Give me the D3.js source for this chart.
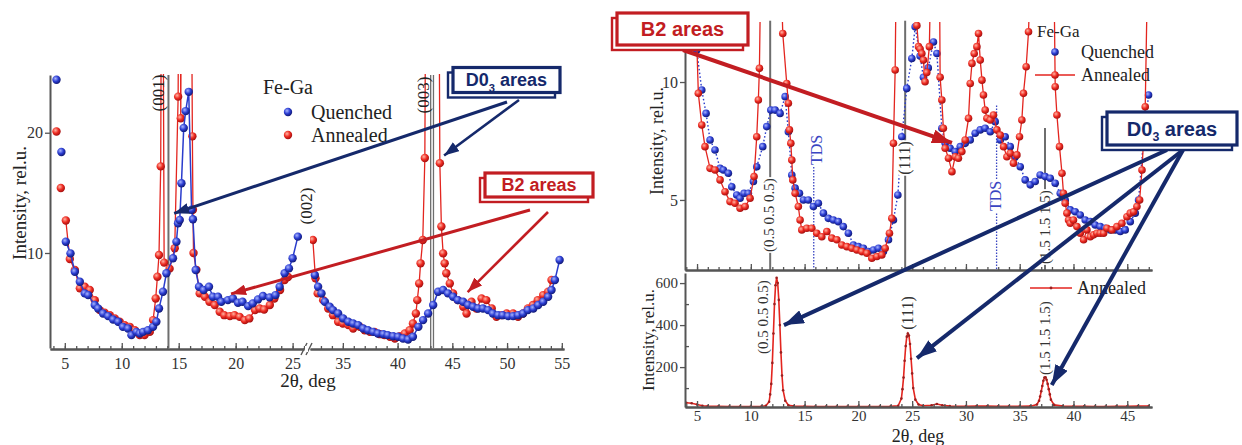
<!DOCTYPE html>
<html>
<head>
<meta charset="utf-8">
<script src="https://cdn.jsdelivr.net/npm/d3@7"></script>
<style>
  html, body { margin: 0; padding: 0; background: #fff; }
  svg { display: block; }
</style>
</head>
<body>
<svg id="fig" width="1242" height="445"></svg>
<script>
// ---------- Left panel: Fe-Ga, 2θ scan with a broken axis ----------
const leftTicksLow  = [5, 10, 15, 20, 25];
const leftTicksHigh = [35, 40, 45, 50, 55];
const leftYTicks    = [10, 20];

// [2θ (deg), intensity (rel.u.)]
const quenchedLow = [
  [4.27,24.4],[4.7,18.4],[5.09,10.94],[5.5,9.97],[5.88,8.44],[6.32,7.61],[6.75,6.64],[7.05,6.5],
  [7.63,5.67],[7.92,5.39],[8.36,4.97],[8.8,4.75],[9.24,4.47],[9.68,4.28],[10.1,3.86],[10.55,3.72],
  [10.85,3.17],[11.29,3.44],[11.58,3.31],[11.87,3.44],[12.3,3.58],[12.75,3.86],[13.04,4.28],[13.27,5.39],
  [13.62,6.78],[13.92,8.31],[14.5,9.56],[14.8,10.94],[14.94,12.47],[15.09,12.75],[15.24,15.8],[15.44,20.4],
  [15.61,21.8],[15.88,23.4],[16.13,13.6],[16.25,12.8],[16.49,8.58],[16.78,7.19],[17.19,6.92],[17.66,7.19],
  [18.0,6.36],[18.45,6.36],[18.74,5.94],[19.32,6.08],[19.76,6.22],[20.2,5.86],[20.6,5.94],[21.1,5.58],
  [21.5,5.81],[21.96,6.14],[22.4,6.42],[22.98,6.31],[23.5,6.5],[23.86,7.19],[24.3,8.31],[24.68,8.72],
  [25.0,9.56],[25.46,11.36]
];
const quenchedHigh = [
  [32.44,8.17],[32.74,7.19],[33.05,6.64],[33.36,5.94],[33.8,5.53],[34.1,5.25],[34.57,4.97],[35.03,4.56],
  [35.5,4.28],[35.94,4.14],[36.4,4.0],[36.86,3.72],[37.3,3.58],[37.77,3.44],[38.2,3.31],[38.7,3.25],
  [39.1,3.17],[39.6,3.08],[40.05,3.03],[40.5,2.89],[40.96,2.81],[41.4,3.03],[41.9,3.86],[42.33,4.42],
  [42.79,4.97],[43.25,5.67],[43.7,6.78],[44.16,6.92],[44.6,6.64],[45.07,6.36],[45.5,6.08],[45.99,5.94],
  [46.44,5.67],[46.9,5.53],[47.36,5.39],[47.8,5.39],[48.27,5.25],[48.7,4.97],[49.18,4.83],[49.6,4.83],
  [50.1,4.75],[50.55,4.75],[51.0,4.83],[51.46,4.97],[51.9,5.25],[52.4,5.39],[52.84,5.67],[53.3,5.94],
  [53.75,6.36],[54.06,6.92],[54.37,7.75],[54.8,9.42]
];
const annealedLow = [
  [4.27,20.1],[4.65,15.4],[5.09,12.7],[5.44,9.5],[5.88,8.58],[6.32,7.06],[6.75,7.19],[7.19,6.92],
  [7.63,6.08],[8.07,5.25],[8.5,5.03],[8.95,4.83],[9.39,4.56],[9.82,4.28],[10.26,4.0],[10.7,3.86],
  [11.14,3.58],[11.58,3.17],[12.0,3.17],[12.46,3.44],[12.75,4.42],[12.98,6.22],[13.13,8.03],[13.27,9.83],
  [13.42,17.2],[13.5,40],[13.6,40],[13.72,9.2],[14.2,8.7],[14.65,10.4],[14.95,23.0],[15.02,40],
  [15.12,40],[15.18,21.2],[15.26,40],[16.08,40],[16.2,19.7],[16.25,13.6],[16.3,10.0],[16.55,8.6],
  [16.84,6.64],[17.3,6.36],[17.7,5.94],[18.16,5.67],[18.6,5.11],[19.0,4.83],[19.5,4.75],[19.9,4.83],
  [20.35,4.69],[20.8,4.42],[21.2,4.56],[21.7,5.25],[22.1,5.39],[22.5,5.3],[23.0,5.67],[23.4,6.22],
  [23.9,6.92],[24.3,7.75],[24.6,8.0]
];
const annealedHigh = [
  [32.26,11.08],[32.5,7.89],[32.7,6.64],[33.2,6.08],[33.66,5.39],[34.1,4.83],[34.57,4.28],[35.0,4.14],
  [35.5,4.0],[35.94,3.72],[36.55,3.86],[37.0,3.58],[37.47,3.44],[37.9,3.44],[38.4,3.25],[38.8,3.17],
  [39.3,3.03],[39.75,2.89],[40.2,3.08],[40.66,3.31],[41.1,3.58],[41.4,4.14],[41.67,4.97],[41.8,6.08],
  [41.97,7.47],[42.1,9.14],[42.3,11.08],[42.49,17.9],[42.6,40],[43.75,40],[43.86,17.47],[44.0,12.2],
  [44.16,9.97],[44.3,9.14],[44.45,8.31],[44.77,7.47],[45.07,6.64],[45.5,6.08],[46.0,5.53],[46.3,4.97],
  [46.75,5.94],[47.2,5.39],[47.67,6.22],[48.1,6.08],[48.6,5.39],[49.03,4.69],[49.5,4.83],[49.96,4.97],
  [50.55,4.97],[51.0,4.69],[51.46,4.97],[51.9,5.39],[52.36,5.67],[52.8,6.08],[53.3,6.5],[53.75,6.78],
  [54.06,7.75]
];
// superstructure reflections marked on the left panel
const leftReflections = [
  { label: "(001)", at: 14.1, line: true },
  { label: "(002)", at: 26.0, line: false },
  { label: "(003)", at: 43.15, line: true }
];

// ---------- Right panel: upper scan (both states) and lower full-scale scan ----------
const rightTicks = [5, 10, 15, 20, 25, 30, 35, 40, 45];
const upperYTicks = [5, 10];
const lowerYTicks = [200, 400, 600];
const lowerYMinor = [100, 300, 500];

const quenchedRight = [
  [4.97,11.36],[5.44,9.66],[5.84,8.67],[6.21,7.54],[6.67,7.12],[7.14,6.34],[7.45,6.27],[7.91,6.13],
  [8.23,5.56],[8.69,5.21],[9.0,5.07],[9.37,5.28],[9.77,5.28],[10.24,5.78],[10.55,6.41],[11.11,7.26],
  [11.48,8.11],[11.86,8.81],[12.26,8.81],[12.72,8.67],[13.19,9.38],[13.49,7.89],[13.81,6.06],[14.12,5.5],
  [14.52,5.28],[14.89,5.0],[15.35,5.0],[15.82,4.72],[16.28,4.86],[16.75,4.44],[17.21,4.22],[17.68,4.15],
  [18.14,4.08],[18.6,3.87],[19.07,3.59],[19.54,3.09],[20.0,3.02],[20.47,2.95],[20.93,2.81],[21.4,2.88],
  [21.87,2.95],[22.33,2.81],[22.8,3.31],[23.26,4.15],[23.67,5.21],[24.04,7.68],[24.5,9.73],[24.97,11.0],
  [25.28,12.34],[25.74,11.1],[26.05,10.2],[26.5,10.6],[26.98,11.7],[27.3,11.21],[27.76,8.04],[28.07,7.4],
  [28.53,7.19],[29.0,7.05],[29.47,7.26],[29.93,7.4],[30.4,7.54],[30.86,7.83],[31.33,7.97],[31.79,8.04],
  [32.26,7.89],[32.72,8.32],[33.19,7.54],[33.65,7.68],[34.12,7.26],[34.58,6.83],[35.05,6.41],[35.51,5.85],
  [35.98,5.64],[36.44,5.78],[36.9,6.06],[37.37,5.99],[37.84,5.92],[38.3,5.71],[38.77,5.28],[39.23,5.0],
  [39.7,4.58],[40.16,4.5],[40.63,4.36],[41.09,4.15],[41.56,4.08],[42.02,3.94],[42.49,3.87],[42.95,3.8],
  [43.42,3.73],[43.88,3.73],[44.35,3.66],[44.81,3.73],[45.28,4.08],[45.74,4.44],[46.05,5.0],[46.51,7.54],
  [46.98,9.45]
];
const annealedRight = [
  [4.85,13.5],[5.12,9.52],[5.44,8.18],[5.74,7.26],[6.21,6.34],[6.67,6.27],[7.14,5.85],[7.6,5.35],
  [8.07,4.93],[8.53,4.86],[9.0,4.65],[9.47,4.72],[9.93,5.07],[10.3,5.99],[10.55,7.68],[10.7,9.24],
  [10.8,10.58],[10.9,14],[12.85,14],[12.97,12.06],[13.34,9.94],[13.49,9.1],[13.59,7.97],[13.72,7.4],
  [13.81,6.69],[13.9,5.85],[14.12,5.28],[14.42,4.72],[14.58,4.15],[14.74,3.73],[15.2,3.8],[15.67,3.8],
  [16.13,3.59],[16.6,3.44],[17.07,3.66],[17.53,3.38],[18.0,3.31],[18.46,3.09],[18.93,3.02],[19.39,2.95],
  [19.86,2.88],[20.32,2.81],[20.79,2.74],[21.25,2.53],[21.72,2.6],[22.18,2.67],[22.49,2.95],[22.89,3.59],
  [23.11,4.22],[23.26,7.4],[23.42,10.51],[23.5,14],[25.38,14],[25.44,12.4],[25.59,11.5],[25.74,11.4],
  [25.9,11.21],[26.05,10.93],[26.2,10.01],[26.36,10.4],[26.6,11.5],[26.7,14],[27.55,14],[27.6,10.2],
  [27.76,9.24],[27.9,8.04],[28.07,7.19],[28.38,6.77],[28.7,6.2],[29.0,6.83],[29.3,6.77],[29.62,7.05],
  [29.93,7.54],[30.24,8.46],[30.4,9.94],[30.56,10.79],[30.77,11.21],[31.02,11.5],[31.17,12.06],[31.33,10.93],
  [31.49,10.08],[31.63,9.45],[31.79,8.81],[31.95,8.46],[32.26,8.39],[32.56,8.6],[32.88,7.97],[33.19,7.75],
  [33.5,7.26],[33.81,6.83],[34.12,6.98],[34.42,6.56],[34.74,6.91],[34.98,7.68],[35.2,8.39],[35.35,9.52],
  [35.6,10.65],[35.82,12.13],[35.95,14],[38.2,14],[38.3,9.8],[38.46,8.6],[38.7,7.26],[38.93,6.13],
  [39.07,5.28],[39.23,4.86],[39.39,4.44],[39.54,4.15],[39.7,4.01],[40.0,4.15],[40.32,3.87],[40.63,3.59],
  [40.94,3.31],[41.25,3.73],[41.56,3.44],[41.87,3.52],[42.18,3.59],[42.49,3.59],[42.8,3.59],[43.11,3.8],
  [43.58,3.73],[44.04,3.87],[44.5,4.01],[44.97,4.29],[45.28,4.44],[45.59,4.5],[45.9,4.72],[46.15,5.0],
  [46.37,6.27],[46.67,8.95],[46.86,14]
];
// full-scale annealed profile (lower plot)
const annealedProfile = [
  [4.0,30],[4.5,28],[5.0,22],[5.5,16],[6.0,14],[7.0,13],[8.0,12],[9.0,12],[10.0,12],[11.0,13],[11.4,16],
  [11.7,35],[11.8,70],[11.9,120],[12.0,220],[12.1,360],[12.2,500],[12.3,590],[12.4,625],[12.5,600],
  [12.6,520],[12.7,400],[12.8,270],[12.9,160],[13.0,90],[13.2,40],[13.5,18],[14.0,14],[15.0,13],[16.0,12],
  [17.0,12],[18.0,12],[19.0,12],[20.0,12],[21.0,12],[22.0,12],[23.0,13],[23.7,16],[24.0,50],[24.1,95],
  [24.2,150],[24.3,230],[24.4,300],[24.5,345],[24.6,360],[24.7,350],[24.8,310],[24.9,240],[25.0,170],
  [25.1,100],[25.3,45],[25.6,22],[26.0,16],[26.8,18],[27.3,24],[27.8,18],[28.5,14],[30.0,13],[31.0,15],
  [32.0,14],[33.0,13],[34.0,13],[35.0,13],[36.0,14],[36.6,22],[36.8,40],[36.9,60],[37.0,85],[37.1,110],
  [37.2,135],[37.3,150],[37.4,152],[37.5,140],[37.6,120],[37.7,95],[37.8,70],[37.9,45],[38.2,20],[39.0,14],
  [40.0,13],[41.0,13],[42.0,12],[43.0,12],[44.0,13],[45.0,13],[46.0,14],[47.0,15]
];
const upperReflections = [
  { label: "(0.5 0.5 0.5)", at: 11.8, from: 12.6 },
  { label: "(111)", at: 24.35, from: 12.6 },
  { label: "(1.5 1.5 1.5)", at: 37.35, from: 8.05 }
];
const tdsLines = [ { at: 15.85, from: 6.4 }, { at: 32.85, from: 9.0 } ];

// ---------- styles ----------
const SERIF = "'Liberation Serif','Times New Roman',serif";
const SANS = "'Liberation Sans',Arial,sans-serif";
const AXIS = "#555";
const REFL = "#6e6e6e";
const QBLUE = "#2a3ccc";
const ARED = "#e3251f";
const NAVY = "#15296b";
const BOXRED = "#c21d22";
const TDSBLUE = "#3a46c2";

const svg = d3.select("#fig");
const defs = svg.append("defs");

function ballGradient(id, hi, mid, lo) {
  const g = defs.append("radialGradient").attr("id", id)
    .attr("cx", "38%").attr("cy", "35%").attr("r", "65%");
  g.append("stop").attr("offset", "0%").attr("stop-color", hi);
  g.append("stop").attr("offset", "55%").attr("stop-color", mid);
  g.append("stop").attr("offset", "100%").attr("stop-color", lo);
}
ballGradient("qBall", "#a8b4ff", "#2b3dd2", "#121a78");
ballGradient("aBall", "#ffb3a3", "#ee2b22", "#a51010");

function arrowHead(id, color, len, wid) {
  defs.append("marker").attr("id", id)
    .attr("markerUnits", "userSpaceOnUse")
    .attr("markerWidth", len).attr("markerHeight", wid)
    .attr("refX", len).attr("refY", wid / 2)
    .attr("orient", "auto")
    .append("path").attr("d", `M0,0 L${len},${wid / 2} L0,${wid} z`).attr("fill", color);
}
arrowHead("headNavy", NAVY, 15, 11);
arrowHead("headRed", BOXRED, 15, 11);
arrowHead("headNavyBig", NAVY, 20, 14);
arrowHead("headRedBig", BOXRED, 20, 14);

function clip(id, x, y, w, h) {
  defs.append("clipPath").attr("id", id).append("rect")
    .attr("x", x).attr("y", y).attr("width", w).attr("height", h);
}

// ---------- scales ----------
const xL1 = d3.scaleLinear().domain([3.7, 26]).range([50, 304]);
const xL2 = d3.scaleLinear().domain([32, 55.2]).range([310, 564]);
const yL = d3.scaleLinear().domain([2.1, 24.8]).range([348, 75]);

const xR = d3.scaleLinear().domain([3.88, 47.3]).range([685, 1152]);
const yRU = d3.scaleLinear().domain([2.03, 12.63]).range([270, 20]);
const yRL = d3.scaleLinear().domain([10, 648]).range([407, 273]);

clip("cL1", 50, 74, 254, 275);
clip("cL2", 310, 74, 256, 275);
clip("cRU", 685, 22, 470, 248);
clip("cRL", 685, 273, 470, 134);

// ---------- helpers ----------
function styleAxis(g) {
  g.select(".domain").attr("stroke", AXIS).attr("stroke-width", 2);
  g.selectAll(".tick line").attr("stroke", AXIS).attr("stroke-width", 1.3);
  g.selectAll(".tick text").attr("fill", "#333").style("font-family", SERIF);
}

function bottomAxis(scale, y, lo, hi, major, labels, fontSize, pad) {
  const minor = d3.range(lo, hi + 1);
  const gMinor = svg.append("g").attr("transform", `translate(0,${y})`)
    .call(d3.axisBottom(scale).tickValues(minor).tickSize(-3).tickSizeOuter(0).tickFormat(""));
  styleAxis(gMinor);
  const gMajor = svg.append("g").attr("transform", `translate(0,${y})`)
    .call(d3.axisBottom(scale).tickValues(major).tickSize(-6).tickSizeOuter(0)
      .tickPadding(pad).tickFormat(labels ? d3.format("d") : ""));
  styleAxis(gMajor);
  gMajor.selectAll(".tick text").style("font-size", fontSize + "px");
}

function leftAxis(scale, x, ticks, fontSize, minor) {
  const g = svg.append("g").attr("transform", `translate(${x},0)`)
    .call(d3.axisLeft(scale).tickValues(ticks).tickSize(5).tickSizeOuter(0).tickPadding(2));
  styleAxis(g);
  g.selectAll(".tick text").style("font-size", fontSize + "px");
  if (minor) {
    const m = svg.append("g").attr("transform", `translate(${x},0)`)
      .call(d3.axisLeft(scale).tickValues(minor).tickSize(-4).tickSizeOuter(0).tickFormat(""));
    styleAxis(m);
    m.select(".domain").remove();
  }
}

function rotLabel(x, y, text, size, color, bg) {
  const g = svg.append("g").attr("transform", `translate(${x},${y}) rotate(-90)`);
  const t = g.append("text").attr("text-anchor", "middle").attr("dy", "0.33em")
    .style("font-family", SERIF).style("font-size", size + "px").attr("fill", color).text(text);
  if (bg) {
    const b = t.node().getBBox();
    g.insert("rect", "text").attr("x", b.x - 1).attr("y", b.y + 2)
      .attr("width", b.width + 2).attr("height", b.height - 4).attr("fill", "#fff");
  }
}

function drawSeries(parent, data, xs, ys, opt) {
  const line = d3.line().x(d => xs(d[0])).y(d => ys(d[1]));
  const lineData = opt.lineFrom !== undefined ? data.filter(d => d[0] >= opt.lineFrom) : data;
  parent.append("path").datum(lineData).attr("d", line).attr("fill", "none")
    .attr("stroke", opt.stroke).attr("stroke-width", opt.width)
    .attr("stroke-dasharray", opt.dash || null);
  if (opt.r) {
    parent.append("g").selectAll("circle").data(data).join("circle")
      .attr("cx", d => xs(d[0])).attr("cy", d => ys(d[1])).attr("r", opt.r)
      .attr("fill", opt.fill);
  }
}

function callout(cx, cy, w, h, color, size, parts) {
  const g = svg.append("g");
  g.append("rect").attr("x", cx - w / 2 - 5).attr("y", cy - h / 2 + 5).attr("width", w).attr("height", h)
    .attr("fill", "#fff").attr("stroke", color).attr("stroke-width", 2.4);
  g.append("rect").attr("x", cx - w / 2).attr("y", cy - h / 2).attr("width", w).attr("height", h)
    .attr("fill", "#fff").attr("stroke", color).attr("stroke-width", 3.2);
  const t = g.append("text").attr("x", cx).attr("y", cy + size * 0.36).attr("text-anchor", "middle")
    .style("font-family", SANS).style("font-weight", "700").style("font-size", size + "px")
    .attr("fill", color);
  parts.forEach(p => {
    const s = t.append("tspan").text(p.t);
    if (p.sub) s.attr("dy", size * 0.28).style("font-size", (size * 0.62) + "px");
    if (p.back) s.attr("dy", -size * 0.28);
  });
}

function arrow(x1, y1, x2, y2, color, width, marker) {
  svg.append("line").attr("x1", x1).attr("y1", y1).attr("x2", x2).attr("y2", y2)
    .attr("stroke", color).attr("stroke-width", width).attr("marker-end", `url(#${marker})`);
}

// ================= LEFT PANEL =================
// reflection markers
leftReflections.filter(r => r.line).forEach(r => {
  const xs = r.at < 30 ? xL1 : xL2;
  const offs = r.at < 30 ? [0] : [-1.4, 1.4];
  offs.forEach(o => {
    svg.append("line").attr("x1", xs(r.at) + o).attr("x2", xs(r.at) + o)
      .attr("y1", yL(24.8)).attr("y2", yL(2.1))
      .attr("stroke", REFL).attr("stroke-width", offs.length > 1 ? 1.3 : 2);
  });
});

const gL1 = svg.append("g").attr("clip-path", "url(#cL1)");
const gL2 = svg.append("g").attr("clip-path", "url(#cL2)");
drawSeries(gL1, annealedLow, xL1, yL, { stroke: ARED, width: 1.3, r: 4.2, fill: "url(#aBall)", lineFrom: 5 });
drawSeries(gL2, annealedHigh, xL2, yL, { stroke: ARED, width: 1.3, r: 4.2, fill: "url(#aBall)" });
drawSeries(gL1, quenchedLow, xL1, yL, { stroke: QBLUE, width: 1.5, r: 4.2, fill: "url(#qBall)", lineFrom: 5 });
drawSeries(gL2, quenchedHigh, xL2, yL, { stroke: QBLUE, width: 1.5, r: 4.2, fill: "url(#qBall)" });

// axes
bottomAxis(xL1, 349, 4, 26, leftTicksLow, true, 16, 9);
bottomAxis(xL2, 349, 33, 55, leftTicksHigh, true, 16, 9);
leftAxis(yL, 50, leftYTicks, 16);
// axis break marks
[304, 309].forEach(bx => {
  svg.append("line").attr("x1", bx - 3).attr("y1", 355).attr("x2", bx + 3).attr("y2", 343)
    .attr("stroke", AXIS).attr("stroke-width", 1.4);
});
svg.append("rect").attr("x", 305).attr("y", 346).attr("width", 3).attr("height", 6).attr("fill", "#fff");

// reflection labels
rotLabel(158, 93, leftReflections[0].label, 17, "#222");
rotLabel(xL1(leftReflections[1].at) + 2, 206, leftReflections[1].label, 17, "#222");
rotLabel(423, 95, leftReflections[2].label, 17, "#222");

// axis titles
svg.append("text").attr("x", 308).attr("y", 387).attr("text-anchor", "middle")
  .style("font-family", SERIF).style("font-size", "19px").attr("fill", "#222").text("2θ, deg");
svg.append("text").attr("transform", "translate(20,203) rotate(-90)").attr("text-anchor", "middle")
  .attr("dy", "0.33em").style("font-family", SERIF).style("font-size", "19px").attr("fill", "#222")
  .text("Intensity, rel.u.");

// legend
svg.append("text").attr("x", 263).attr("y", 94).style("font-family", SERIF).style("font-size", "20px")
  .attr("fill", "#222").text("Fe-Ga");
svg.append("circle").attr("cx", 288).attr("cy", 112).attr("r", 4.2).attr("fill", "url(#qBall)");
svg.append("text").attr("x", 311).attr("y", 119).style("font-family", SERIF).style("font-size", "20px")
  .attr("fill", "#222").text("Quenched");
svg.append("circle").attr("cx", 288).attr("cy", 135).attr("r", 4.2).attr("fill", "url(#aBall)");
svg.append("text").attr("x", 311).attr("y", 142).style("font-family", SERIF).style("font-size", "20px")
  .attr("fill", "#222").text("Annealed");

// callouts
arrow(507, 102, xL1(14.6), yL(13.3), NAVY, 3, "headNavy");
arrow(519, 100, xL2(44.25), yL(18.1), NAVY, 2.6, "headNavy");
arrow(530, 210, xL1(19.6), yL(6.6), BOXRED, 3, "headRed");
arrow(548, 212, xL2(46.4), yL(6.75), BOXRED, 2.6, "headRed");
callout(506.5, 80, 107, 25, NAVY, 18, [{ t: "D0" }, { t: "3", sub: true }, { t: " areas", back: true }]);
callout(539, 185, 108, 24, BOXRED, 18, [{ t: "B2 areas" }]);

// ================= RIGHT PANEL =================
// reflection and TDS markers (upper plot)
upperReflections.forEach(r => {
  svg.append("line").attr("x1", xR(r.at)).attr("x2", xR(r.at))
    .attr("y1", yRU(r.from)).attr("y2", yRU(2.03))
    .attr("stroke", REFL).attr("stroke-width", 2);
});
tdsLines.forEach(t => {
  svg.append("line").attr("x1", xR(t.at)).attr("x2", xR(t.at))
    .attr("y1", yRU(t.from)).attr("y2", yRU(2.03))
    .attr("stroke", TDSBLUE).attr("stroke-width", 1.3).attr("stroke-dasharray", "1.5,1.5");
});

const gRU = svg.append("g").attr("clip-path", "url(#cRU)");
drawSeries(gRU, quenchedRight, xR, yRU, { stroke: QBLUE, width: 1.4, dash: "1.6,2.2", r: 3.8, fill: "url(#qBall)" });
drawSeries(gRU, annealedRight, xR, yRU, { stroke: ARED, width: 1.3, r: 3.8, fill: "url(#aBall)" });

const gRL = svg.append("g").attr("clip-path", "url(#cRL)");
drawSeries(gRL, annealedProfile, xR, yRL, { stroke: ARED, width: 1.6, r: 1.3, fill: "#9a2020" });

// axes
bottomAxis(xR, 270, 4, 47, rightTicks, false, 15, 5);
bottomAxis(xR, 407, 4, 47, rightTicks, true, 15, 3);
leftAxis(yRU, 685, upperYTicks, 16);
leftAxis(yRL, 685, lowerYTicks, 15, lowerYMinor);

// labels on the upper plot
rotLabel(xR(11.8) - 1, 215, upperReflections[0].label, 15, "#333", true);
rotLabel(xR(24.35), 158, upperReflections[1].label, 16, "#333", true);
rotLabel(xR(37.35), 227, upperReflections[2].label, 15, "#333", true);
rotLabel(xR(15.85) + 3, 150, "TDS", 16, TDSBLUE, false);
rotLabel(xR(32.85) - 1, 196, "TDS", 16, TDSBLUE, true);

// labels on the lower plot
rotLabel(xR(12.4) - 14, 317, upperReflections[0].label, 15, "#333");
rotLabel(xR(24.6), 313, upperReflections[1].label, 16, "#333");
rotLabel(xR(37.35), 338, upperReflections[2].label, 15, "#333");

// axis titles
svg.append("text").attr("x", 918).attr("y", 442).attr("text-anchor", "middle")
  .style("font-family", SERIF).style("font-size", "18px").attr("fill", "#222").text("2θ, deg");
svg.append("text").attr("transform", "translate(657,141) rotate(-90)").attr("text-anchor", "middle")
  .attr("dy", "0.33em").style("font-family", SERIF).style("font-size", "18px").attr("fill", "#222")
  .text("Intensity, rel.u.");
svg.append("text").attr("transform", "translate(648,340) rotate(-90)").attr("text-anchor", "middle")
  .attr("dy", "0.33em").style("font-family", SERIF).style("font-size", "17px").attr("fill", "#222")
  .text("Intensity, rel.u.");

// legends
svg.append("text").attr("x", 1037).attr("y", 37).style("font-family", SERIF).style("font-size", "17px")
  .attr("fill", "#222").text("Fe-Ga");
svg.append("circle").attr("cx", 1055).attr("cy", 52).attr("r", 3.8).attr("fill", "url(#qBall)");
svg.append("text").attr("x", 1081).attr("y", 58).style("font-family", SERIF).style("font-size", "18px")
  .attr("fill", "#222").text("Quenched");
svg.append("line").attr("x1", 1035).attr("x2", 1075).attr("y1", 75).attr("y2", 75)
  .attr("stroke", ARED).attr("stroke-width", 1.3);
svg.append("circle").attr("cx", 1055).attr("cy", 75).attr("r", 3.8).attr("fill", "url(#aBall)");
svg.append("text").attr("x", 1081).attr("y", 81).style("font-family", SERIF).style("font-size", "18px")
  .attr("fill", "#222").text("Annealed");

svg.append("line").attr("x1", 1030).attr("x2", 1072).attr("y1", 288).attr("y2", 288)
  .attr("stroke", ARED).attr("stroke-width", 1.6);
svg.append("circle").attr("cx", 1051).attr("cy", 288).attr("r", 1.4).attr("fill", "#9a2020");
svg.append("text").attr("x", 1077).attr("y", 294).style("font-family", SERIF).style("font-size", "18px")
  .attr("fill", "#222").text("Annealed");

// callouts
arrow(683, 50, xR(28.7), yRU(7.42), BOXRED, 4, "headRedBig");
arrow(1167, 150, xR(13.08), yRL(400), NAVY, 4, "headNavyBig");
arrow(1183, 150, xR(25.45), yRL(243), NAVY, 4, "headNavyBig");
arrow(1183, 150, xR(37.98), yRL(115), NAVY, 4, "headNavyBig");
callout(682.5, 29, 131, 32, BOXRED, 20, [{ t: "B2 areas" }]);
callout(1172, 128.5, 130, 33, NAVY, 20, [{ t: "D0" }, { t: "3", sub: true }, { t: " areas", back: true }]);
</script>
</body>
</html>
